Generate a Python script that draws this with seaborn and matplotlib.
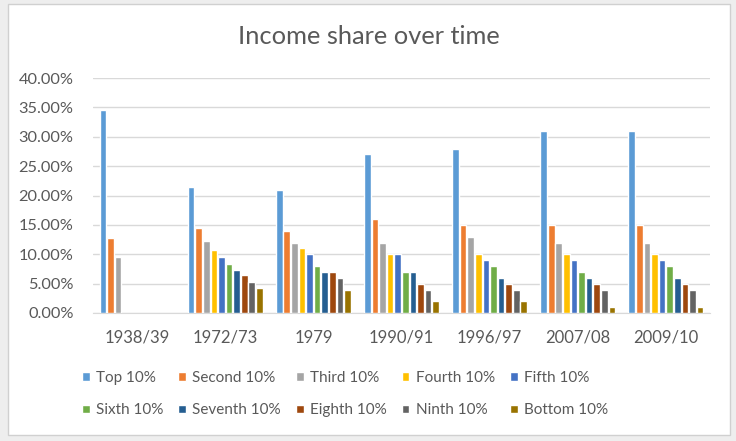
import matplotlib.pyplot as plt
import matplotlib.patches as mpatches
from matplotlib.ticker import PercentFormatter
import numpy as np
import pandas as pd
import seaborn as sns

# Data (share of income, %)
periods = ['1938/39', '1972/73', '1979', '1990/91', '1996/97', '2007/08', '2009/10']
deciles = ['Top 10%', 'Second 10%', 'Third 10%', 'Fourth 10%', 'Fifth 10%',
           'Sixth 10%', 'Seventh 10%', 'Eighth 10%', 'Ninth 10%', 'Bottom 10%']

top = [34.6, 21.4, 20.9, 27.0, 28.0, 31.0, 31.0]
second = [12.7, 14.4, 14.0, 16.0, 15.0, 15.0, 15.0]
third = [9.6, 12.2, 11.9, 12.0, 13.0, 12.0, 12.0]
fourth = [np.nan, 10.8, 11.0, 10.0, 10.0, 10.0, 10.0]
fifth = [np.nan, 9.6, 10.0, 10.0, 9.0, 9.0, 9.0]
sixth = [np.nan, 8.3, 8.0, 7.0, 8.0, 7.0, 8.0]
seventh = [np.nan, 7.3, 7.0, 7.0, 6.0, 6.0, 6.0]
eighth = [np.nan, 6.4, 7.0, 5.0, 5.0, 5.0, 5.0]
ninth = [np.nan, 5.2, 6.0, 4.0, 4.0, 4.0, 4.0]
bottom = [np.nan, 4.2, 3.9, 2.0, 2.0, 1.0, 1.0]

series = [top, second, third, fourth, fifth, sixth, seventh, eighth, ninth, bottom]
colors = ['#5B9BD5', '#ED7D31', '#A5A5A5', '#FFC000', '#4472C4',
          '#70AD47', '#255E91', '#9E480E', '#636363', '#997300']

rows = []
for name, vals in zip(deciles, series):
    for p, v in zip(periods, vals):
        rows.append({'period': p, 'decile': name, 'share': v / 100})
df = pd.DataFrame(rows).dropna()

sns.set_style('white')
plt.rcParams['font.family'] = ['Lato', 'DejaVu Sans']
text_col = '#595959'

fig = plt.figure(figsize=(7.36, 4.41), dpi=100, facecolor='#eeeeee')
W, H = 736, 441
# chart area frame (behind the axes)
fig.patches.append(mpatches.Rectangle((8 / W, 1 - 435 / H), 722 / W, 431 / H,
                                      transform=fig.transFigure, facecolor='white',
                                      edgecolor='#d0d0d0', lw=1, zorder=-5))

ax = fig.add_axes([93 / W, 1 - 313 / H, 617 / W, 235 / H])
ax.set_facecolor('none')
sns.barplot(data=df, x='period', y='share', hue='decile', order=periods,
            hue_order=deciles, palette=colors, saturation=1, width=0.86, gap=0.12,
            errorbar=None, ax=ax, zorder=3)

ax.set_ylim(0, 0.40)
ax.set_xlim(-0.5, len(periods) - 0.5)
ax.set_yticks(np.arange(0, 0.401, 0.05))
ax.yaxis.set_major_formatter(PercentFormatter(1.0, decimals=2))
ax.grid(axis='y', color='#d9d9d9', lw=1, zorder=0)
ax.set_axisbelow(True)
for s in ['top', 'left', 'right']:
    ax.spines[s].set_visible(False)
ax.spines['bottom'].set_color('#d9d9d9')
ax.tick_params(length=0, colors=text_col, labelsize=11.8)
ax.tick_params(axis='x', pad=12, labelsize=12)
ax.tick_params(axis='y', pad=14)
ax.set_xlabel('')
ax.set_ylabel('')

fig.text(369 / W, 1 - 37 / H, 'Income share over time', ha='center', va='center',
         fontsize=18.3, color=text_col)

# legend fills column by column, so interleave to get two rows in order
handles, labels = ax.get_legend_handles_labels()
order = [i + r * 5 for i in range(5) for r in range(2)]
ax.legend([handles[i] for i in order], [labels[i] for i in order], ncol=5,
          frameon=False, loc='upper left',
          bbox_to_anchor=(82 / W, 1 - 371 / H), bbox_transform=fig.transFigure,
          fontsize=11, labelcolor=text_col, handlelength=0.5, handleheight=0.5,
          handletextpad=0.4, columnspacing=1.0, labelspacing=1.2, borderpad=0,
          borderaxespad=0)

fig.savefig('out.png', dpi=100, facecolor=fig.get_facecolor())
